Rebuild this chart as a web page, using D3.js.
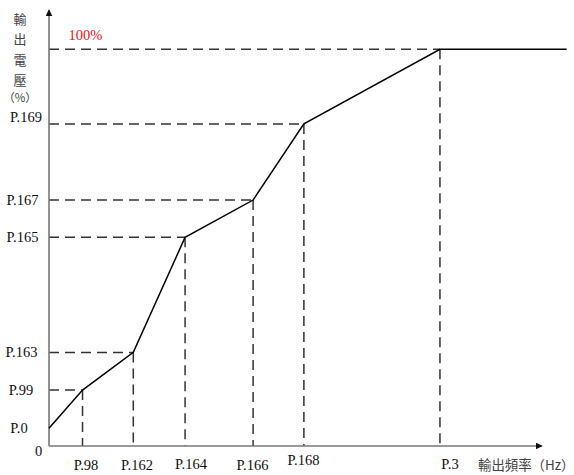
<!DOCTYPE html>
<html>
<head>
<meta charset="utf-8">
<script src="https://cdn.jsdelivr.net/npm/d3@7/dist/d3.min.js"></script>
<style>
  html, body { margin: 0; padding: 0; background: #fff; }
  svg { display: block; }
  .lbl { font-family: "Liberation Serif", "DejaVu Serif", serif; font-size: 14.5px; fill: #111; }
  .cjk { font-family: "Noto Sans CJK TC", "Noto Sans CJK SC", sans-serif; font-size: 13px; fill: #444; }
</style>
</head>
<body>
<svg id="chart" width="574" height="475"></svg>
<script>
// ---- data (axis units are % of full scale) ----
const xParams = ["P.98", "P.162", "P.164", "P.166", "P.168", "P.3"];
const yParams = ["P.0", "P.99", "P.163", "P.165", "P.167", "P.169", "100%"];
const xValues = [0, 6.8, 17.1, 27.6, 41.4, 51.7, 79.3, 105];   // frequency (% of x span)
const yValues = [4.5, 14.1, 23.6, 52.6, 62.0, 81.2, 100, 100]; // voltage (%)
const xAxisTitle = "輸出頻率（Hz）";
const yAxisTitle = ["輸", "出", "電", "壓", "（%）"];
const xAxisMax = 100;
const yAxisMax = 109.9;

// ---- layout ----
const svg = d3.select("#chart");
const x = d3.scaleLinear().domain([0, 100]).range([49, 542]);
const y = d3.scaleLinear().domain([0, 100]).range([446, 49.3]);

const pts = xValues.map((v, i) => ({ x: v, y: yValues[i] }));
const guides = pts.slice(1, pts.length - 1);

const dashStyle = g => g.attr("stroke", "#333").attr("stroke-width", 1.5)
  .attr("stroke-dasharray", "10,6").attr("fill", "none");
svg.append("g").selectAll("line").data(guides).join("line")
  .attr("x1", x(0)).attr("x2", d => x(d.x))
  .attr("y1", d => y(d.y)).attr("y2", d => y(d.y))
  .call(dashStyle);
svg.append("g").selectAll("line").data(guides).join("line")
  .attr("x1", d => x(d.x)).attr("x2", d => x(d.x))
  .attr("y1", d => y(d.y)).attr("y2", y(0))
  .call(dashStyle);

const defs = svg.append("defs");
defs.append("marker").attr("id", "arr").attr("viewBox", "0 0 10 10")
  .attr("refX", 9).attr("refY", 5).attr("markerWidth", 7).attr("markerHeight", 7)
  .attr("markerUnits", "userSpaceOnUse").attr("orient", "auto")
  .append("path").attr("d", "M0,0 L10,5 L0,10 Z").attr("fill", "#111");

svg.append("line").attr("x1", x(0)).attr("y1", y(0)).attr("x2", x(0)).attr("y2", y(yAxisMax))
  .attr("stroke", "#777").attr("stroke-width", 1.6).attr("marker-end", "url(#arr)");
svg.append("line").attr("x1", x(0)).attr("y1", y(0)).attr("x2", x(xAxisMax)).attr("y2", y(0))
  .attr("stroke", "#777").attr("stroke-width", 1.6).attr("marker-end", "url(#arr)");

svg.append("path").datum(pts)
  .attr("d", d3.line().x(d => x(d.x)).y(d => y(d.y)))
  .attr("fill", "none").attr("stroke", "#000").attr("stroke-width", 1.5);

// y labels
const yLabelNudge = [0, 0, 0, 0, 0, -7];
const yLabelX = [19, 21, 21.5, 22.5, 22.5, 26];
yParams.slice(0, 6).forEach((t, i) => {
  svg.append("text").attr("class", "lbl")
    .attr("x", yLabelX[i]).attr("y", y(yValues[i]) + yLabelNudge[i])
    .attr("text-anchor", "middle").attr("dominant-baseline", "central").text(t);
});
svg.append("text").attr("class", "lbl").attr("x", 85.5).attr("y", y(100) - 9)
  .attr("text-anchor", "middle").style("fill", "#e8121a").text(yParams[6]);
svg.append("text").attr("class", "lbl").attr("x", 38.5).attr("y", 456)
  .attr("text-anchor", "middle").text("0");

// x labels
const xLabelCenters = [86, 137, 191, 252.5, 303.5, 450];
const xLabelBase = [470, 470, 469, 470, 465, 469];
xParams.forEach((t, i) => {
  svg.append("text").attr("class", "lbl")
    .attr("x", xLabelCenters[i]).attr("y", xLabelBase[i])
    .attr("text-anchor", "middle").text(t);
});

// axis titles
svg.append("text").attr("class", "cjk").style("font-size", "13.4px")
  .attr("x", 478).attr("y", 470).text(xAxisTitle);
const ty = [18.5, 38.5, 59, 79, 97];
yAxisTitle.forEach((c, i) => {
  svg.append("text").attr("class", "cjk").attr("x", 20).attr("y", ty[i])
    .style("font-size", i === 4 ? "11.5px" : "13px")
    .attr("text-anchor", "middle").attr("dominant-baseline", "central").text(c);
});
</script>
</body>
</html>
